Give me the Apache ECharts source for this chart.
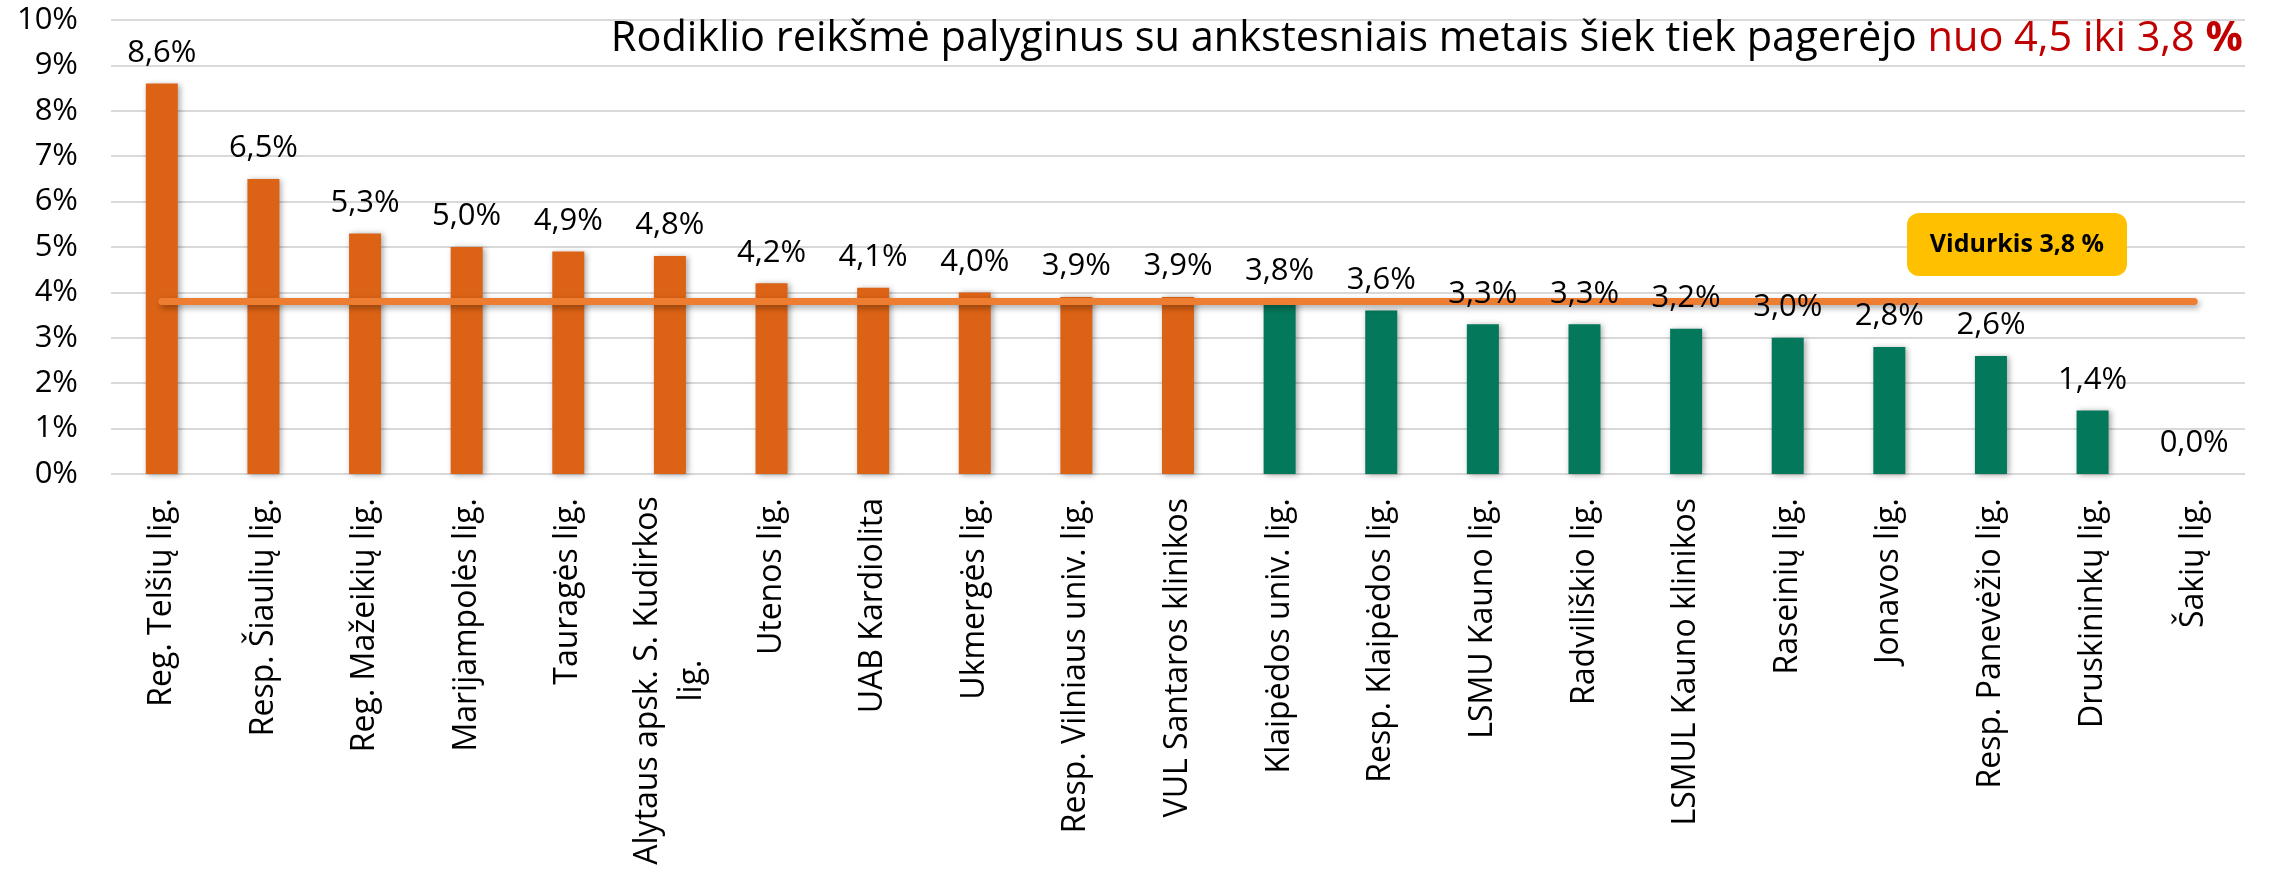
<!DOCTYPE html>
<html>
<head>
<meta charset="utf-8">
<script src="https://cdn.jsdelivr.net/npm/echarts@6/dist/echarts.min.js"></script>
<style>
  html, body { margin: 0; padding: 0; background: #fff; }
  #chart { width: 2271px; height: 873px; }
</style>
</head>
<body>
<div id="chart"></div>
<script>
// duomenys
const categories = [
    'Reg. Telšių lig.', 'Resp. Šiaulių lig.', 'Reg. Mažeikių lig.', 'Marijampolės lig.',
    'Tauragės lig.', 'Alytaus apsk. S. Kudirkos\nlig.', 'Utenos lig.', 'UAB Kardiolita',
    'Ukmergės lig.', 'Resp. Vilniaus univ. lig.', 'VUL Santaros klinikos',
    'Klaipėdos univ. lig.', 'Resp. Klaipėdos lig.', 'LSMU Kauno lig.', 'Radviliškio lig.',
    'LSMUL Kauno klinikos', 'Raseinių lig.', 'Jonavos lig.', 'Resp. Panevėžio lig.',
    'Druskininkų lig.', 'Šakių lig.'
];
const values = [8.6, 6.5, 5.3, 5.0, 4.9, 4.8, 4.2, 4.1, 4.0, 3.9, 3.9,
                3.8, 3.6, 3.3, 3.3, 3.2, 3.0, 2.8, 2.6, 1.4, 0.0];
const averageValue = 3.8;
const yTicks = [0, 10, 1]; // min, max, interval (%)

const FONT = '"Open Sans", sans-serif';
const ORANGE = '#DC6315';
const GREEN = '#04785A';
const fmt = (v) => v.toFixed(1).replace('.', ',') + '%';

const chart = echarts.init(document.getElementById('chart'));

chart.setOption({
    backgroundColor: '#ffffff',
    animation: false,
    textStyle: { fontFamily: FONT },
    title: {
        right: 23,
        top: 13,
        text: '{b|Rodiklio reikšmė palyginus su ankstesniais metais šiek tiek pagerėjo }{r|nuo 4,5 iki 3,8 }{rb|%}',
        textStyle: {
            fontWeight: 'normal',
            rich: {
                b: { fontFamily: FONT, fontSize: 41.5, fontWeight: 'normal', color: '#000' },
                r: { fontFamily: FONT, fontSize: 41.5, fontWeight: 'normal', color: '#C00000' },
                rb: { fontFamily: FONT, fontSize: 41.5, fontWeight: 'bold', color: '#C00000' }
            }
        }
    },
    grid: { left: 111, right: 26, top: 20, bottom: 399, containLabel: false },
    xAxis: {
        type: 'category',
        data: categories,
        axisLine: { show: false },
        axisTick: { show: false },
        axisLabel: {
            interval: 0,
            rotate: 90,
            margin: 24,
            fontFamily: FONT,
            fontSize: 32,
            lineHeight: 44,
            color: '#000',
            formatter: (v) => {
                if (v.indexOf('\n') < 0) return v;
                return v.split('\n').map(s => '{c|' + s + '}').join('\n');
            },
            rich: {
                c: { fontFamily: FONT, fontSize: 32, lineHeight: 44, width: 365, align: 'center', color: '#000' }
            }
        }
    },
    yAxis: {
        type: 'value',
        min: yTicks[0],
        max: yTicks[1],
        interval: yTicks[2],
        axisLine: { show: false },
        axisTick: { show: false },
        splitLine: { lineStyle: { color: '#D9D9D9', width: 2 } },
        axisLabel: {
            margin: 33,
            fontFamily: FONT,
            fontSize: 31,
            color: '#000',
            formatter: '{value}%'
        }
    },
    series: [
        {
            type: 'bar',
            barWidth: 32,
            data: values.map(v => ({
                value: v,
                itemStyle: { color: v > averageValue ? ORANGE : GREEN }
            })),
            itemStyle: {
                shadowColor: 'rgba(0,0,0,0.35)',
                shadowBlur: 6,
                shadowOffsetX: 2,
                shadowOffsetY: 1
            },
            z: 2
        },
        {
            type: 'line',
            data: categories.map(() => averageValue),
            symbol: 'none',
            lineStyle: {
                color: '#ED7D31',
                width: 7,
                cap: 'round',
                shadowColor: 'rgba(0,0,0,0.35)',
                shadowBlur: 6,
                shadowOffsetX: 2,
                shadowOffsetY: 3
            },
            z: 3
        },
        {
            // reikšmių etiketės virš linijos
            type: 'bar',
            barWidth: 32,
            barGap: '-100%',
            data: values,
            itemStyle: { color: 'rgba(0,0,0,0)' },
            label: {
                show: true,
                position: 'top',
                distance: 15,
                fontFamily: FONT,
                fontSize: 31,
                color: '#000',
                formatter: (p) => fmt(p.value)
            },
            silent: true,
            z: 4
        }
    ],
    graphic: [
        {
            type: 'rect',
            left: 1907,
            top: 213,
            shape: { width: 220, height: 63, r: 12 },
            style: { fill: '#FFC000' },
            z: 10
        },
        {
            type: 'text',
            x: 2017,
            y: 245,
            style: {
                text: 'Vidurkis 3,8 %',
                fontFamily: FONT,
                fontSize: 25,
                fontWeight: 'bold',
                fill: '#000',
                align: 'center',
                verticalAlign: 'middle'
            },
            z: 11
        }
    ]
});
</script>
</body>
</html>
